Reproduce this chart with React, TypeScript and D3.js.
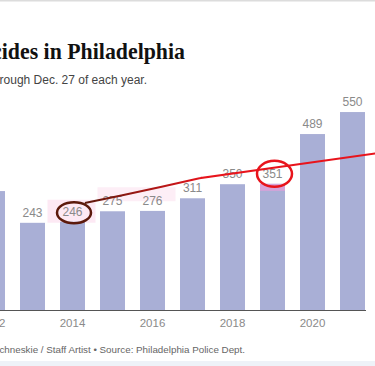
import React from "react";
import { scaleBand, scaleLinear, line, curveBasis } from "d3";

const years = [2012, 2013, 2014, 2015, 2016, 2017, 2018, 2019, 2020, 2021];
const homicides = [331, 243, 246, 275, 276, 311, 350, 351, 489, 550];
const tickYears = [2012, 2014, 2016, 2018, 2020];

// hand-drawn annotation stroke, in data units (year offset, count)
const markYears = [2014.31, 2015.2, 2016.2, 2017.2, 2021.6];
const markValues = [298, 318, 342, 367, 436];

const W = 375;
const H = 366;
const BAR = "#a9afd6";

export default function App() {
  const x = scaleBand<number>()
    .domain(years)
    .range([-20, 365])
    .paddingInner(0.375)
    .paddingOuter(0);
  const y = scaleLinear().domain([0, 600]).range([310.5, 94]);
  const bw = x.bandwidth();
  const cx = (yr: number) => (x(yr) as number) + bw / 2;
  // fractional years -> pixels
  const xf = (yr: number) => cx(2013) + (yr - 2013) * x.step();

  const markPts = markYears.map((yr, i) => [xf(yr), y(markValues[i])] as [number, number]);
  const curved = line().curve(curveBasis)(markPts.slice(0, 4)) || "";
  const straight = `L${markPts[3][0]},${markPts[3][1]} L${markPts[4][0]},${markPts[4][1]}`;

  const lbl = (i: number) => y(homicides[i]) - 6;

  return (
    <svg
      width={W}
      height={H}
      style={{ position: "absolute", left: 0, top: 0, background: "#fff" }}
    >
      <defs>
        <linearGradient id="mk" gradientUnits="userSpaceOnUse" x1={85} x2={205} y1={0} y2={0}>
          <stop offset="0" stopColor="#5c1a0c" />
          <stop offset="1" stopColor="#e8141c" />
        </linearGradient>
      </defs>
      <rect x={0} y={0} width={W} height={1.5} fill="#dcdcdc" />

      <text
        transform="translate(185,59) scale(0.95,1)"
        textAnchor="end"
        fontFamily="'Liberation Serif', serif"
        fontWeight="bold"
        fontSize={23}
        fill="#111"
      >
        Homicides in Philadelphia
      </text>
      <text
        x={147}
        y={84}
        textAnchor="end"
        fontFamily="'Liberation Sans', sans-serif"
        fontSize={12}
        fill="#444"
      >
        Homicides through Dec. 27 of each year.
      </text>

      {/* faint highlighter marks */}
      <rect x={cx(2014) - 25} y={lbl(2) - 16} width={48} height={23} fill="#fde9f4" />
      <rect x={cx(2015) - 15} y={lbl(3) - 18} width={78} height={14} fill="#fdeef6" />

      {years.map((yr, i) => (
        <rect key={yr} x={x(yr)} y={y(homicides[i])} width={bw} height={y(0) - y(homicides[i])} fill={BAR} />
      ))}
      <rect x={x(2019)} y={y(351)} width={bw} height={7} fill="#d6a3d9" />

      {years.map((yr, i) => (
        <text
          key={yr}
          x={cx(yr) - (i === 0 ? 7 : 0)}
          y={lbl(i)}
          textAnchor="middle"
          fontFamily="'Liberation Sans', sans-serif"
          fontSize={12}
          fill="#8a8a8a"
        >
          {homicides[i]}
        </text>
      ))}

      <line x1={-20} x2={366} y1={y(0)} y2={y(0)} stroke="#555" strokeWidth={1} />
      {tickYears.map((yr) => (
        <text
          key={yr}
          x={cx(yr)}
          y={y(0) + 16}
          textAnchor="middle"
          fontFamily="'Liberation Sans', sans-serif"
          fontSize={11.5}
          fill="#8a8a8a"
        >
          {yr}
        </text>
      ))}

      {/* annotation */}
      <path d={curved + straight} fill="none" stroke="url(#mk)" strokeWidth={2} />
      <ellipse cx={cx(2014) + 1.5} cy={lbl(2) - 3} rx={17} ry={10.5} fill="none" stroke="#5c1a0c" strokeWidth={2.5} />
      <ellipse cx={cx(2019) + 2} cy={lbl(7) - 4} rx={17.5} ry={13} fill="none" stroke="#e8141c" strokeWidth={2.5} />

      <text
        x={245}
        y={353}
        textAnchor="end"
        fontFamily="'Liberation Sans', sans-serif"
        fontSize={9.8}
        fill="#666"
      >
        John Duchneskie / Staff Artist • Source: Philadelphia Police Dept.
      </text>
      <rect x={0} y={361} width={W} height={5} fill="#eef2f8" />
    </svg>
  );
}
